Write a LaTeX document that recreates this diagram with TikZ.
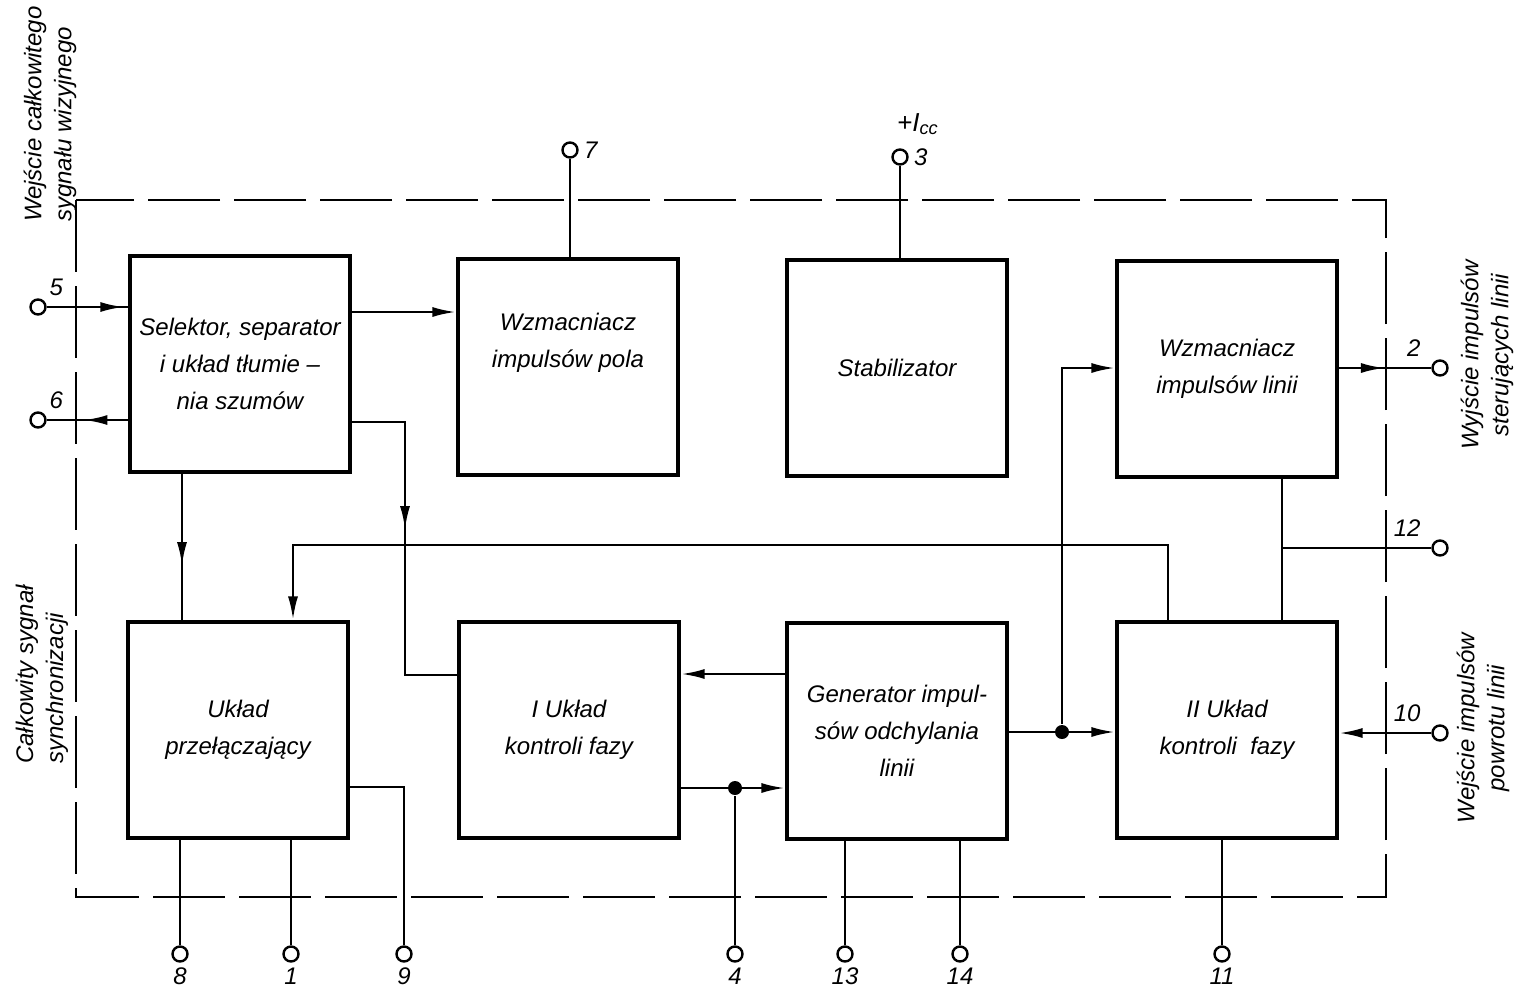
\documentclass[tikz,border=0pt]{standalone}
\usepackage{fontspec}
\setmainfont{Liberation Sans}
\usetikzlibrary{arrows.meta,calc,decorations.markings}

\begin{document}
\begin{tikzpicture}[x=0.5pt,y=-0.5pt,>={Latex[length=12pt,width=5pt]},line width=1.4pt,
 napis/.style={font=\itshape\fontsize{12}{18.5}\selectfont,align=center},
 blok/.style={napis,draw,line width=1.6pt,minimum width=110pt,minimum height=108pt,inner sep=0pt},
 zacisk/.style={draw,circle,fill=white,minimum size=7.5pt,inner sep=0pt,line width=1.2pt},
 numer/.style={font=\itshape\fontsize{12}{14}\selectfont,inner sep=2pt},
 opis/.style={font=\itshape\fontsize{12}{15}\selectfont,rotate=90},
 ramka/.style={dash pattern=on 36pt off 7pt},
 wezel/.style={circle,fill,inner sep=0pt,minimum size=7pt},
 strzalka/.style={postaction={decorate,decoration={markings,
  mark=at position #1 with {\arrow{Latex[length=12pt,width=5pt]}}}}}]
 \useasboundingbox (0,0) rectangle (1522,992);
 % obudowa ukladu
 \draw[ramka] (76,200) rectangle (1386,897);
 % bloki
 \node[blok] (A) at (240,364) {Selektor, separator\\i układ tłumie –\\nia szumów};
 \node[blok] (B) at (568,367) {};
 \node[napis] (tB) at ($(B)+(0,-24)$) {Wzmacniacz\\impulsów pola};
 \node[blok] (C) at (897,368) {Stabilizator};
 \node[blok] (D) at (1227,369) {Wzmacniacz\\impulsów linii};
 \node[blok] (E) at (238,730) {Układ\\przełączający};
 \node[blok] (F) at (569,730) {I Układ\\kontroli fazy};
 \node[blok] (G) at (897,731) {Generator impul-\\sów odchylania\\linii};
 \node[blok] (H) at (1227,730) {II Układ\\kontroli\ \ fazy};
 % opisy wyprowadzen
 \node[opis,anchor=west,align=left] (we5) at (50,230) {Wejście całkowitego\\sygnału wizyjnego};
 \node[opis,anchor=west,align=left] (sy6) at (42,772) {Całkowity sygnał\\synchronizacji};
 \node[opis,align=center] (wy2) at (1487,355) {Wyjście impulsów\\sterujących linii};
 \node[opis,align=center] (we10) at (1483,728) {Wejście impulsów\\powrotu linii};
 % zaciski
 \node[zacisk,label={[numer]above right:5}] (p5) at (38,307) {};
 \node[zacisk,label={[numer]above right:6}] (p6) at (38,420) {};
 \node[zacisk,label={[numer]right:7}] (p7) at (570,150) {};
 \node[zacisk,label={[numer]right:3}] (p3) at (900,157) {};
 \node[numer,font=\itshape\fontsize{13}{15}\selectfont] (Icc) at (918,124) {+I\textsubscript{cc}};
 \node[zacisk,label={[numer,xshift=-4pt]above left:2}] (p2) at (1440,368) {};
 \node[zacisk,label={[numer,xshift=-4pt]above left:12}] (p12) at (1440,548) {};
 \node[zacisk,label={[numer,xshift=-4pt]above left:10}] (p10) at (1440,733) {};
 \foreach \n/\x in {8/180,1/291,9/404,4/735,13/845,14/960,11/1222}
  \node[zacisk,label={[numer]below:\n}] (p\n) at (\x,954) {};
 % selektor
 \draw[strzalka=0.95] (p5) -- (p5 -| A.west);
 \draw[strzalka=0.55] (A.west |- p6) -- (p6);
 \draw[->] (A.east |- 0,312) -- (B.west |- 0,312);
 \draw[strzalka=0.63] (A.south -| 182,0) -- (E.north -| 182,0);
 \draw[strzalka=0.45] (A.east |- 0,422) -| (405,675) -- (F.west |- 0,675);
 \draw (B.north -| p7) -- (p7);
 \draw (C.north -| p3) -- (p3);
 % generator i kontrola fazy
 \draw[->] (G.west |- 0,674) -- (F.east |- 0,674);
 \draw[->] (F.east |- 0,788) -- (G.west |- 0,788);
 \node[wezel] (w4) at (735,788) {};
 \draw (w4) -- (p4);
 \draw[->] (G.east |- 0,732) -- (H.west |- 0,732);
 \node[wezel] (w2) at (1062,732) {};
 \draw[->] (w2) |- (D.west |- 0,368);
 \draw[strzalka=0.5] (D.east |- p2) -- (p2);
 \draw (D.south -| 1282,0) -- (H.north -| 1282,0);
 \coordinate (w12) at (1282,548);
 \draw (w12) -- (p12);
 \draw[->] (p10) -- (H.east |- p10);
 \draw[->] (H.north -| 1168,0) |- (293,545) -- (E.north -| 293,0);
 % wyprowadzenia dolne
 \draw (E.south -| p8) -- (p8);
 \draw (E.south -| p1) -- (p1);
 \draw (E.east |- 0,787) -| (p9);
 \draw (G.south -| p13) -- (p13);
 \draw (G.south -| p14) -- (p14);
 \draw (H.south -| p11) -- (p11);
\end{tikzpicture}
\end{document}
